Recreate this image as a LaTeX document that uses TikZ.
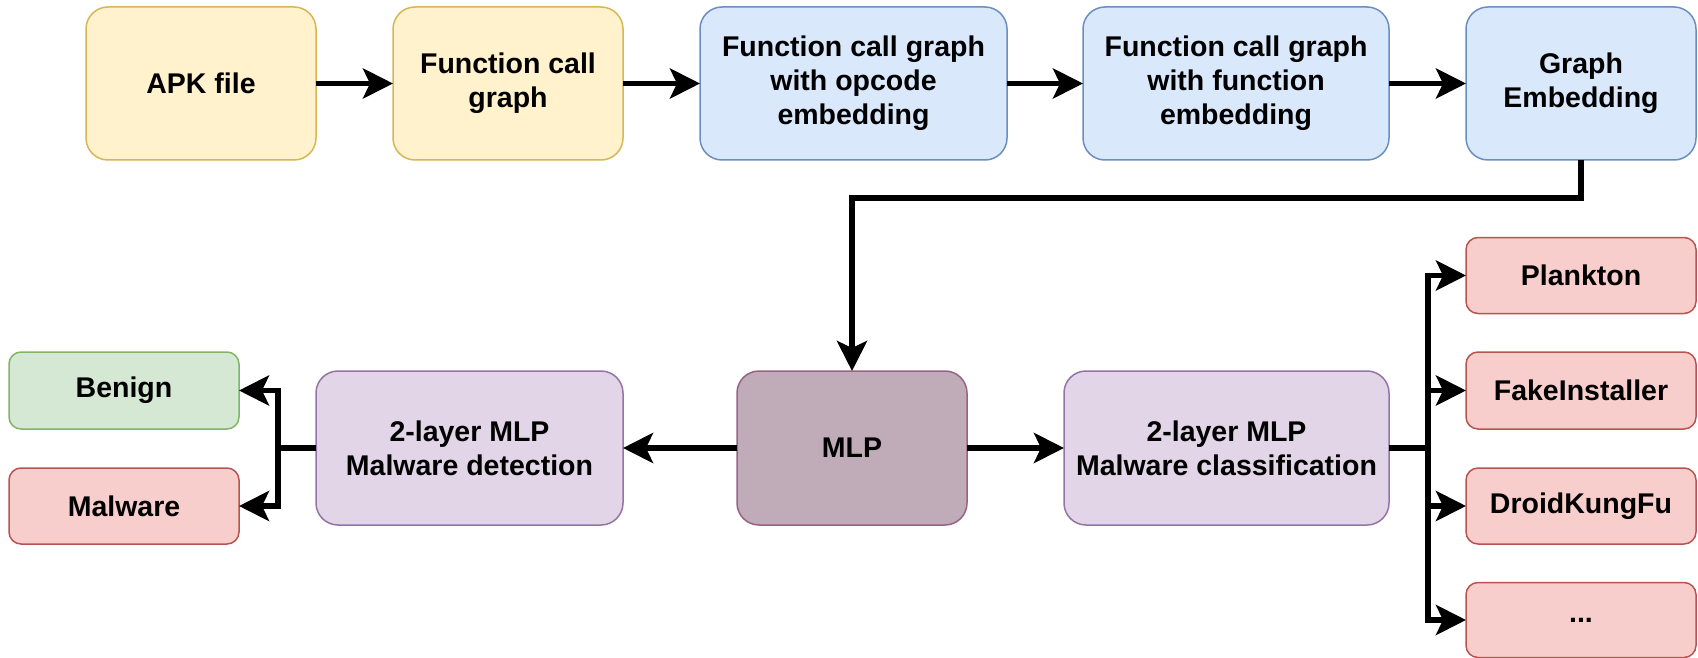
\documentclass[tikz,border=0pt]{standalone}
\usepackage{fontspec}
\setmainfont{Liberation Sans}
\usetikzlibrary{arrows.meta}
\definecolor{yelF}{HTML}{FFF2CC}\definecolor{yelD}{HTML}{D6B656}
\definecolor{bluF}{HTML}{DAE8FC}\definecolor{bluD}{HTML}{6C8EBF}
\definecolor{grnF}{HTML}{D5E8D4}\definecolor{grnD}{HTML}{82B366}
\definecolor{redF}{HTML}{F8CECC}\definecolor{redD}{HTML}{B85450}
\definecolor{purF}{HTML}{E1D5E7}\definecolor{purD}{HTML}{9673A6}
\definecolor{mauF}{HTML}{C0ACB8}\definecolor{mauD}{HTML}{996185}
\begin{document}
\begin{tikzpicture}[x=1pt,y=-1pt,
  base/.style={draw, line width=1.5pt, inner sep=0pt, outer sep=0pt, align=center,
    font=\fontsize{28.5}{34}\selectfont\bfseries, text=black},
  big/.style={base, rounded corners=22pt, minimum height=153pt},
  small/.style={base, rounded corners=12pt, minimum width=230pt, minimum height=76pt},
  yel/.style={fill=yelF, draw=yelD},
  blu/.style={fill=bluF, draw=bluD},
  grn/.style={fill=grnF, draw=grnD},
  red/.style={fill=redF, draw=redD},
  pur/.style={fill=purF, draw=purD},
  mau/.style={fill=mauF, draw=mauD},
  link/.style={line width=5.5pt, -{Stealth[length=30pt,width=30pt,inset=7pt]}}]
\useasboundingbox (0,0) rectangle (1698,658);

% top row: feature extraction pipeline
\node[big, yel, minimum width=230pt] (apk) at (201,83.5) {APK file};
\node[big, yel, minimum width=230pt] (fcg) at (508,83.5) {Function call\\graph};
\node[big, blu, minimum width=307pt] (opc) at (853.5,83.5) {Function call graph\\with opcode\\embedding};
\node[big, blu, minimum width=306pt] (fun) at (1236,83.5) {Function call graph\\with function\\embedding};
\node[big, blu, minimum width=230pt] (ge) at (1581,83.5) {Graph\\Embedding};

% middle row: classifiers
\node[big, pur, minimum width=307pt, minimum height=154pt] (det) at (469.5,448) {2-layer MLP\\Malware detection};
\node[big, mau, minimum width=230pt, minimum height=154pt] (mlp) at (852,448) {MLP};
\node[big, pur, minimum width=325pt, minimum height=154pt] (cls) at (1226.5,448) {2-layer MLP\\Malware classification};

% outputs of the detector
\node[small, grn, minimum height=77pt] (benign) at (124,390.5) {Benign};
\node[small, red] (malware) at (124,506) {Malware};

% outputs of the family classifier
\node[small, red] (plank) at (1581,275.5) {Plankton};
\node[small, red, minimum height=77pt] (fake) at (1581,390.5) {FakeInstaller};
\node[small, red] (droid) at (1581,506) {DroidKungFu};
\node[small, red, minimum height=75pt] (dots) at (1581,620) {...};

% connectors
\draw[link] (apk) -- (fcg);
\draw[link] (fcg) -- (opc);
\draw[link] (opc) -- (fun);
\draw[link] (fun) -- (ge);

\coordinate (geturn) at (1581,198);
\draw[link] (ge.south) -- (geturn) -| (mlp.north);

\draw[link] (mlp) -- (det);
\draw[link] (mlp) -- (cls);

\coordinate (lj) at (278,448);
\draw[link] (det.west) -- (lj) |- (benign.east);
\draw[link] (lj) |- (malware.east);

\coordinate (rj) at (1428,448);
\draw[link] (cls.east) -- (rj) |- (plank.west);
\draw[link] (rj) |- (fake.west);
\draw[link] (rj) |- (droid.west);
\draw[link] (rj) |- (dots.west);
\end{tikzpicture}
\end{document}
